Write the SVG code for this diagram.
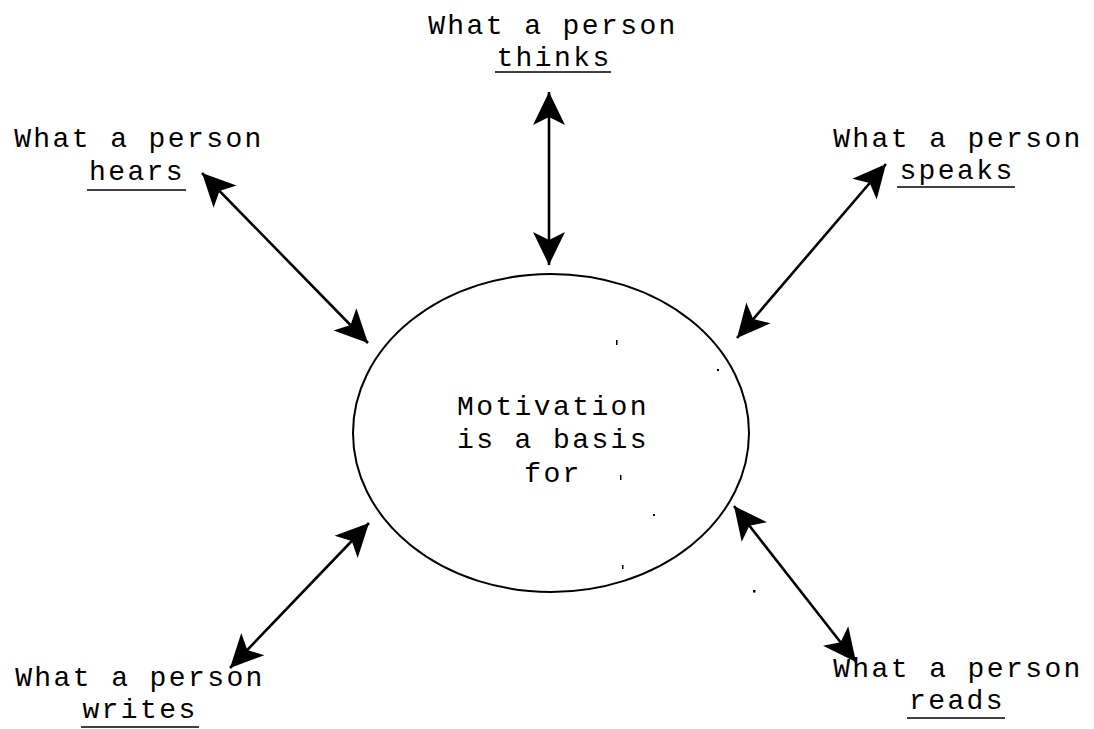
<svg xmlns="http://www.w3.org/2000/svg" width="1094" height="729" viewBox="0 0 1094 729">
<style>
.t{font-family:"Liberation Mono","Courier New",monospace;font-size:28px;letter-spacing:2.4px;fill:#000;text-anchor:middle}
.ul{stroke:#000;stroke-width:1.6}
.c{stroke:#000;stroke-width:2.6;fill:none}
.sp{fill:#000}
</style>
<defs>
<marker id="ah" viewBox="-34 -17 35 34" markerWidth="35" markerHeight="34" refX="0" refY="0" markerUnits="userSpaceOnUse" orient="auto-start-reverse">
<path d="M0,0 L-33,-16 L-25,0 L-33,16 Z" fill="#000"/>
</marker>
</defs>
<rect width="1094" height="729" fill="#fff"/>
<g id="center">
<ellipse cx="551" cy="433" rx="198" ry="159" fill="none" stroke="#000" stroke-width="2"/>
<text class="t" x="553" y="415">Motivation</text>
<text class="t" x="553" y="448">is a basis</text>
<text class="t" x="553" y="482">for</text>
</g>
<g id="thinks">
<text class="t" x="553" y="34">What a person</text>
<text class="t" x="554" y="66">thinks</text>
<line class="ul" x1="495" y1="72" x2="611" y2="72"/>
</g>
<g id="hears">
<text class="t" x="139" y="147">What a person</text>
<text class="t" x="137" y="180">hears</text>
<line class="ul" x1="87" y1="190" x2="186" y2="190"/>
</g>
<g id="speaks">
<text class="t" x="958" y="147">What a person</text>
<text class="t" x="957" y="179">speaks</text>
<line class="ul" x1="897" y1="187" x2="1015" y2="187"/>
</g>
<g id="writes">
<text class="t" x="140" y="686">What a person</text>
<text class="t" x="140" y="718">writes</text>
<line class="ul" x1="81" y1="727" x2="199" y2="727"/>
</g>
<g id="reads">
<text class="t" x="958" y="677">What a person</text>
<text class="t" x="957" y="709">reads</text>
<line class="ul" x1="907" y1="718" x2="1005" y2="718"/>
</g>
<g id="connectors">
<line class="c" x1="549" y1="92" x2="549" y2="265" marker-start="url(#ah)" marker-end="url(#ah)"/>
<line class="c" x1="202" y1="173" x2="368" y2="343" marker-start="url(#ah)" marker-end="url(#ah)"/>
<line class="c" x1="886" y1="164" x2="737" y2="338" marker-start="url(#ah)" marker-end="url(#ah)"/>
<line class="c" x1="369" y1="523" x2="230" y2="668" marker-start="url(#ah)" marker-end="url(#ah)"/>
<line class="c" x1="734" y1="506" x2="856" y2="662" marker-start="url(#ah)" marker-end="url(#ah)"/>
</g>
<g id="specks">
<rect class="sp" x="616" y="340" width="1.5" height="5"/>
<rect class="sp" x="717" y="369" width="2" height="2"/>
<rect class="sp" x="620" y="475" width="1.5" height="5"/>
<rect class="sp" x="653" y="514" width="2" height="2"/>
<rect class="sp" x="622" y="565" width="1.5" height="4"/>
<rect class="sp" x="753" y="590" width="2.5" height="2.5"/>
</g>
</svg>
